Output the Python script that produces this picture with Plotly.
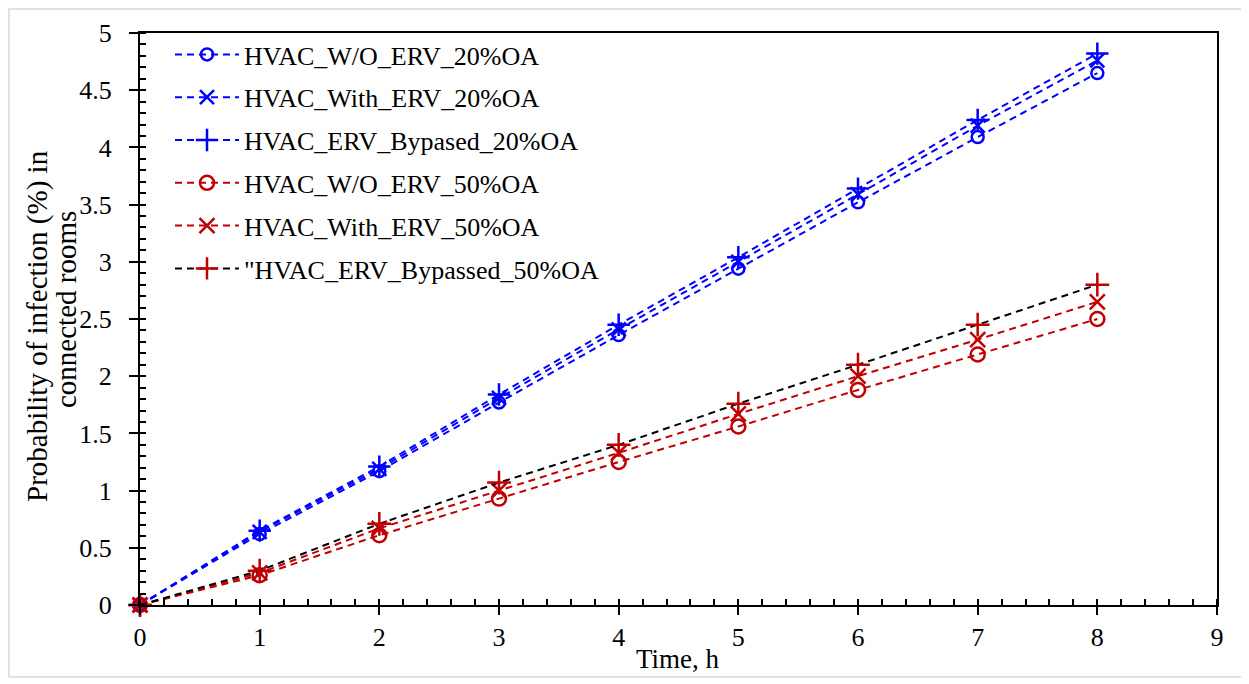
import plotly.graph_objects as go

time_h = [0, 1, 2, 3, 4, 5, 6, 7, 8]

names = [
    "HVAC_W/O_ERV_20%OA",
    "HVAC_With_ERV_20%OA",
    "HVAC_ERV_Bypased_20%OA",
    "HVAC_W/O_ERV_50%OA",
    "HVAC_With_ERV_50%OA",
    "\"HVAC_ERV_Bypassed_50%OA",
]

wo_erv_20 = [0, 0.62, 1.17, 1.77, 2.36, 2.94, 3.52, 4.09, 4.65]
with_erv_20 = [0, 0.64, 1.19, 1.81, 2.41, 3.00, 3.59, 4.19, 4.76]
bypassed_20 = [0, 0.65, 1.21, 1.84, 2.45, 3.04, 3.64, 4.24, 4.82]
wo_erv_50 = [0, 0.26, 0.61, 0.93, 1.25, 1.56, 1.88, 2.19, 2.50]
with_erv_50 = [0, 0.28, 0.67, 1.00, 1.33, 1.67, 2.00, 2.32, 2.65]
bypassed_50 = [0, 0.30, 0.71, 1.07, 1.40, 1.76, 2.10, 2.45, 2.80]

y_title_lines = ["Probability of infection (%) in", "connected rooms"]
x_title = "Time, h"

series = [wo_erv_20, with_erv_20, bypassed_20, wo_erv_50, with_erv_50, bypassed_50]
symbols = ["circle-open", "x-thin-open", "cross-thin-open",
           "circle-open", "x-thin-open", "cross-thin-open"]
BLUE = "#0000FF"
RED = "#C00000"
line_colors = [BLUE, BLUE, BLUE, RED, RED, "#000000"]
marker_colors = [BLUE, BLUE, BLUE, RED, RED, RED]
sizes = [12, 14, 16, 14, 15, 17]

FONT = "Liberation Serif, Times New Roman, serif"

fig = go.Figure()
for i, (nm, ys) in enumerate(zip(names, series)):
    fig.add_trace(go.Scatter(
        x=time_h, y=ys, name=nm, mode="lines+markers",
        legendgroup=f"g{i}", cliponaxis=False,
        line=dict(color=line_colors[i], width=2, dash="7px,5px"),
        marker=dict(symbol=symbols[i], size=sizes[i], color=marker_colors[i],
                    line=dict(width=2.5, color=marker_colors[i])),
    ))

# page has an 8px body margin; plot area in page coords: x 140..1217, y 33..605
OFF = 8
W, H = 1249 - OFF, 684 - OFF
PL, PR, PT, PB = 140, 1217, 33, 605
L, T = PL - OFF, PT - OFF
R, B = 1249 - PR, 684 - PB
pw, ph = PR - PL, PB - PT


def px(xp):
    return (xp - PL) / pw


def py(yp):
    return (PB - yp) / ph


fig.update_layout(
    width=W, height=H,
    margin=dict(l=L, r=R, t=T, b=B),
    paper_bgcolor="white", plot_bgcolor="white",
    font=dict(family=FONT, size=26, color="black"),
    showlegend=True,
    legend=dict(
        x=px(170), y=py(31), xanchor="left", yanchor="top",
        bgcolor="rgba(0,0,0,0)", borderwidth=0,
        font=dict(family=FONT, size=26, color="black"),
        tracegroupgap=6, traceorder="grouped",
        itemwidth=64,
    ),
    xaxis=dict(
        range=[0, 9], dtick=1, tick0=0,
        showgrid=False, zeroline=False,
        showline=True, linecolor="black", linewidth=2, mirror=True,
        ticks="outside", ticklen=8, tickwidth=2, tickcolor="black",
        tickfont=dict(family=FONT, size=26), ticklabelstandoff=0,
        minor=dict(dtick=0.2, ticks="inside", ticklen=6, tickwidth=1.5,
                   tickcolor="black", showgrid=False),
    ),
    yaxis=dict(
        range=[0, 5], dtick=0.5, tick0=0,
        showgrid=False, zeroline=False,
        showline=True, linecolor="black", linewidth=2, mirror=True,
        ticks="outside", ticklen=9, tickwidth=2, tickcolor="black",
        tickfont=dict(family=FONT, size=26), ticklabelstandoff=12,
        minor=dict(dtick=0.1, ticks="inside", ticklen=6, tickwidth=1.5,
                   tickcolor="black", showgrid=False),
    ),
    annotations=[
        dict(text=y_title_lines[0], xref="paper", yref="paper",
             x=px(37), y=py(326), xanchor="center", yanchor="middle",
             textangle=-90, showarrow=False, font=dict(family=FONT, size=29)),
        dict(text=y_title_lines[1], xref="paper", yref="paper",
             x=px(66), y=py(310), xanchor="center", yanchor="middle",
             textangle=-90, showarrow=False, font=dict(family=FONT, size=29)),
        dict(text=x_title, xref="paper", yref="paper",
             x=px(678), y=py(659), xanchor="center", yanchor="middle",
             showarrow=False, font=dict(family=FONT, size=27)),
    ],
    shapes=[dict(
        type="rect", xref="paper", yref="paper",
        x0=px(9), x1=px(1244),
        y0=py(677), y1=py(9),
        line=dict(color="#d9d9d9", width=1.5), fillcolor="rgba(0,0,0,0)",
        layer="below",
    )],
)

fig.write_html("out.html")
